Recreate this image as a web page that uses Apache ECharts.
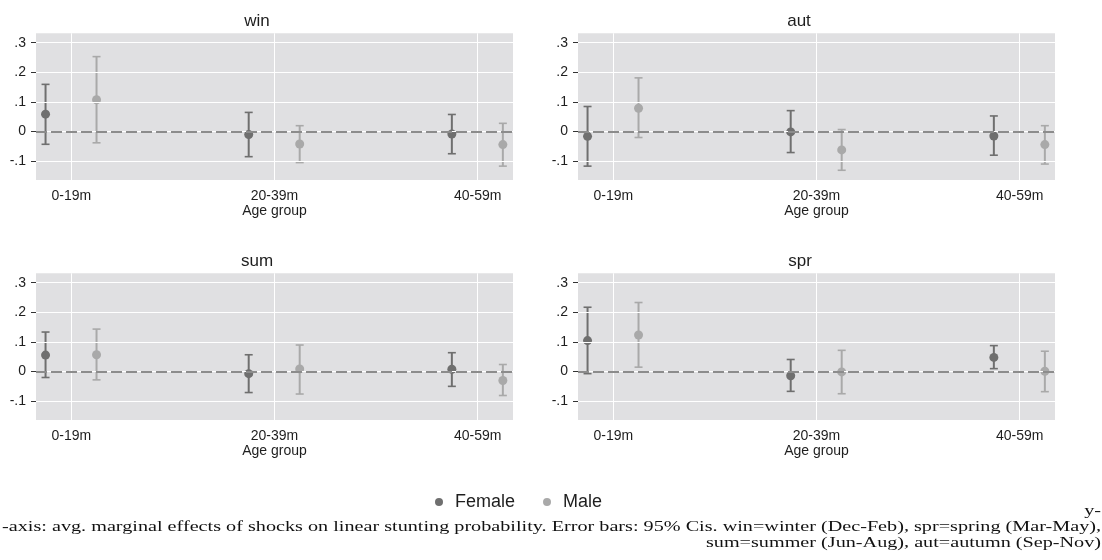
<!DOCTYPE html>
<html>
<head>
<meta charset="utf-8">
<script src="https://cdn.jsdelivr.net/npm/echarts@6/dist/echarts.min.js"></script>
<style>
  html, body { margin: 0; padding: 0; background: #ffffff; }
  #chart { width: 1102px; height: 560px; }
</style>
</head>
<body>
<div id="chart"></div>
<script>
// ---------------- data ----------------
const categories = ['0-19m', '20-39m', '40-59m'];
const panelNames = ['win', 'aut', 'sum', 'spr'];
const yTickValues = [-0.1, 0, 0.1, 0.2, 0.3];
const yTickLabels = ['-.1', '0', '.1', '.2', '.3'];
const seriesNames = ['Female', 'Male'];

// rows: [estimate, lower CI, upper CI] per age group
const winFemale = [[0.058, -0.044, 0.159], [-0.011, -0.086, 0.064], [-0.009, -0.076, 0.057]];
const winMale   = [[0.107, -0.039, 0.253], [-0.043, -0.106, 0.019], [-0.045, -0.118, 0.027]];
const autFemale = [[-0.017, -0.118, 0.084], [-0.002, -0.072, 0.070], [-0.016, -0.081, 0.052]];
const autMale   = [[0.078, -0.021, 0.181], [-0.063, -0.132, 0.006], [-0.045, -0.111, 0.019]];
const sumFemale = [[0.055, -0.021, 0.133], [-0.008, -0.072, 0.056], [0.007, -0.051, 0.063]];
const sumMale   = [[0.056, -0.029, 0.143], [0.008, -0.077, 0.089], [-0.031, -0.082, 0.023]];
const sprFemale = [[0.104, -0.008, 0.217], [-0.015, -0.068, 0.040], [0.047, 0.009, 0.087]];
const sprMale   = [[0.123, 0.014, 0.233], [-0.002, -0.076, 0.071], [0.000, -0.069, 0.068]];

const noteLines = [
  'y-',
  '-axis: avg. marginal effects of shocks on linear stunting probability. Error bars: 95% Cis. win=winter (Dec-Feb), spr=spring (Mar-May),',
  'sum=summer (Jun-Aug), aut=autumn (Sep-Nov)'
];

// ---------------- layout / style ----------------
const panelData = {
  win: [winFemale, winMale],
  aut: [autFemale, autMale],
  sum: [sumFemale, sumMale],
  spr: [sprFemale, sprMale]
};
const grids = [
  { left: 36,  top: 33.3,  width: 477, height: 146.7, titleX: 257, titleY: 12.5 },
  { left: 578, top: 33.3,  width: 477, height: 146.7, titleX: 799, titleY: 12.5 },
  { left: 36,  top: 273.3, width: 477, height: 146.7, titleX: 257, titleY: 252.5 },
  { left: 578, top: 273.3, width: 477, height: 146.7, titleX: 800, titleY: 252.5 }
];
const colors = ['#6f6f6f', '#a9a9a9'];
const offsets = [-0.127, 0.124];
const xMin = 0.826, xMax = 3.174;
const yMin = -0.165, yMax = 0.332;
const sansFont = '"Liberation Sans", Arial, sans-serif';
const serifFont = '"Liberation Serif", "Times New Roman", serif';
const textColor = '#1e1e1e';
const xTickValues = categories.map((c, i) => i + 1);

function yLabel(v) {
  for (let i = 0; i < yTickValues.length; i++) {
    if (Math.abs(v - yTickValues[i]) < 1e-9) return yTickLabels[i];
  }
  return '';
}
function xLabel(v) {
  const i = Math.round(v) - 1;
  return categories[i] || '';
}

function makeErrorRender(color) {
  return function (params, api) {
    const x = api.value(0), lo = api.value(1), hi = api.value(2);
    const pLo = api.coord([x, lo]);
    const pHi = api.coord([x, hi]);
    const cap = 4;
    const style = { stroke: color, lineWidth: 2 };
    const capStyle = { stroke: color, lineWidth: 1.6 };
    return {
      type: 'group',
      children: [
        { type: 'line', shape: { x1: pLo[0], y1: pLo[1], x2: pHi[0], y2: pHi[1] }, style: style },
        { type: 'line', shape: { x1: pLo[0] - cap, y1: pLo[1], x2: pLo[0] + cap, y2: pLo[1] }, style: capStyle },
        { type: 'line', shape: { x1: pHi[0] - cap, y1: pHi[1], x2: pHi[0] + cap, y2: pHi[1] }, style: capStyle }
      ]
    };
  };
}

const option = {
  animation: false,
  backgroundColor: '#ffffff',
  color: colors,
  title: [],
  grid: [],
  xAxis: [],
  yAxis: [],
  series: [],
  legend: {
    data: seriesNames.map((n, i) => ({ name: n, itemStyle: { color: colors[i] } })),
    left: 435,
    top: 493,
    icon: 'circle',
    itemWidth: 22,
    itemHeight: 8,
    itemGap: 28,
    padding: 0,
    textStyle: { fontFamily: sansFont, fontSize: 18, color: textColor },
    selectedMode: false
  },
  graphic: []
};

panelNames.forEach((name, p) => {
  const g = grids[p];
  option.title.push({
    text: name,
    left: g.titleX,
    top: g.titleY,
    textAlign: 'center',
    padding: 0,
    textStyle: { fontFamily: sansFont, fontSize: 17, fontWeight: 'normal', color: textColor }
  });
  option.grid.push({
    left: g.left, top: g.top, width: g.width, height: g.height,
    show: true, backgroundColor: '#e0e0e2', borderWidth: 0
  });
  option.xAxis.push({
    type: 'value', gridIndex: p, min: xMin, max: xMax,
    name: 'Age group', nameLocation: 'middle', nameGap: 23,
    nameTextStyle: { fontFamily: sansFont, fontSize: 14, color: textColor },
    axisLine: { show: false },
    axisTick: { show: true, length: 5, customValues: xTickValues, lineStyle: { color: '#333', width: 1 } },
    axisLabel: { customValues: xTickValues, formatter: xLabel, margin: 9, fontFamily: sansFont, fontSize: 14, color: textColor },
    splitLine: { show: false }
  });
  option.yAxis.push({
    type: 'value', gridIndex: p, min: yMin, max: yMax,
    axisLine: { show: false },
    axisTick: { show: true, length: 5, customValues: yTickValues, lineStyle: { color: '#333', width: 1 } },
    axisLabel: { customValues: yTickValues, formatter: yLabel, margin: 10, fontFamily: sansFont, fontSize: 14, color: textColor },
    splitLine: { show: false }
  });
  // white grid lines
  option.series.push({
    type: 'scatter', xAxisIndex: p, yAxisIndex: p, data: [], silent: true, z: 1,
    markLine: {
      silent: true, symbol: 'none', animation: false,
      label: { show: false },
      lineStyle: { color: '#ffffff', width: 1, type: 'solid' },
      data: yTickValues.map(v => ({ yAxis: v })).concat(xTickValues.map(v => ({ xAxis: v })))
    }
  });
  // dashed zero line
  option.series.push({
    type: 'scatter', xAxisIndex: p, yAxisIndex: p, data: [], silent: true, z: 2,
    markLine: {
      silent: true, symbol: 'none', animation: false,
      label: { show: false },
      lineStyle: { color: '#8c8c8c', width: 2, type: [11, 4] },
      data: [{ yAxis: 0 }]
    }
  });
  panelData[name].forEach((rows, s) => {
    const bars = rows.map((r, i) => [i + 1 + offsets[s], r[1], r[2]]);
    const pts = rows.map((r, i) => [i + 1 + offsets[s], r[0]]);
    option.series.push({
      type: 'custom', name: seriesNames[s], xAxisIndex: p, yAxisIndex: p,
      renderItem: makeErrorRender(colors[s]),
      itemStyle: { color: colors[s] },
      encode: { x: 0, y: [1, 2] },
      data: bars, z: 3, silent: true
    });
    option.series.push({
      type: 'scatter', name: seriesNames[s], xAxisIndex: p, yAxisIndex: p,
      data: pts, symbol: 'circle', symbolSize: 9,
      itemStyle: { color: colors[s], opacity: 1 }, z: 4, silent: true
    });
  });
});

const noteY = [511, 527.5, 543.5];
noteLines.forEach((t, i) => {
  option.graphic.push({
    type: 'text', x: 1101, y: noteY[i], scaleY: 0.7, silent: true,
    style: {
      text: t, align: 'right', verticalAlign: 'middle',
      fontFamily: serifFont, fontSize: 20.2, fill: '#111111'
    }
  });
});

const chart = echarts.init(document.getElementById('chart'), null, { renderer: 'canvas' });
chart.setOption(option);
</script>
</body>
</html>
